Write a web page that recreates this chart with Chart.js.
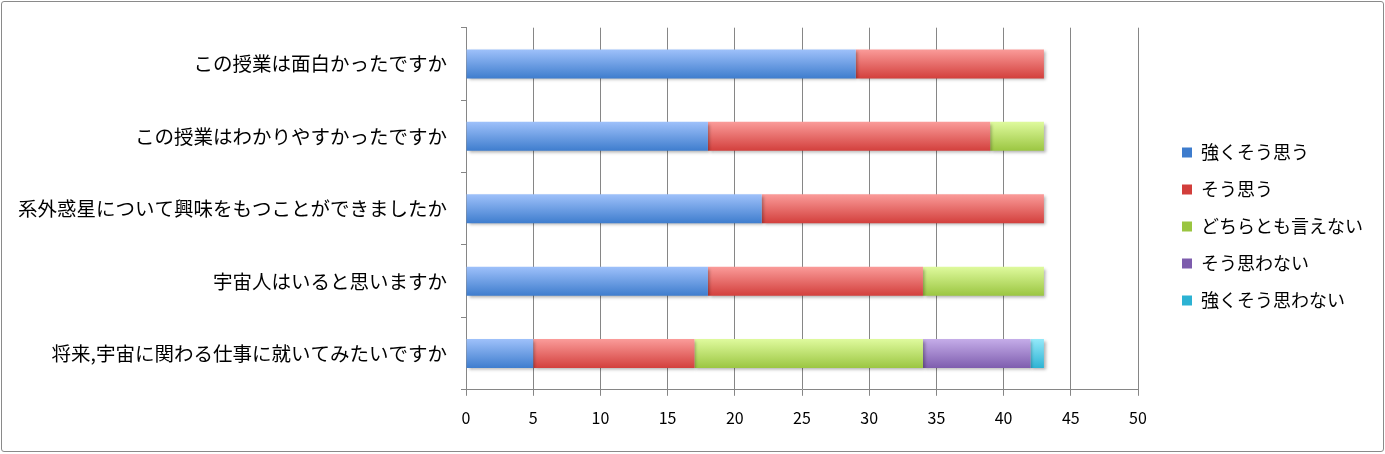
<!DOCTYPE html>
<html>
<head>
<meta charset="utf-8">
<script src="https://cdn.jsdelivr.net/npm/chart.js@4.4.0/dist/chart.umd.min.js"></script>
<style>
  body { margin: 0; background: #fff; }
  #frame {
    position: absolute; left: 1px; top: 1px;
    width: 1381px; height: 449px;
    border: 1px solid #8a8a8a; border-radius: 3px;
  }
</style>
</head>
<body>
<div id="frame"><canvas id="myChart" width="1381" height="449"></canvas></div>
<script>
// data
const questions = [
    'この授業は面白かったですか',
    'この授業はわかりやすかったですか',
    '系外惑星について興味をもつことができましたか',
    '宇宙人はいると思いますか',
    '将来,宇宙に関わる仕事に就いてみたいですか'
];
const seriesNames = ['強くそう思う', 'そう思う', 'どちらとも言えない', 'そう思わない', '強くそう思わない'];
const stronglyAgree = [29, 18, 22, 18, 5];
const agree = [14, 21, 21, 16, 12];
const neutral = [0, 4, 0, 9, 17];
const disagree = [0, 0, 0, 0, 8];
const stronglyDisagree = [0, 0, 0, 0, 1];
const xTicks = [0, 5, 10, 15, 20, 25, 30, 35, 40, 45, 50];

// top / bottom colours of each bar gradient
const shades = [
    ['#a0c2fb', '#3d7ccd'],
    ['#fb9d9b', '#d23e3b'],
    ['#e0fb9f', '#9ac540'],
    ['#c6aeea', '#7d5cad'],
    ['#95eafa', '#2cb2d3']
];

const font = "'Noto Sans CJK JP', 'Noto Sans', sans-serif";

// vertical gradient for each bar, built from the y scale
function barFill(i) {
    return function(context) {
        const chart = context.chart;
        const y = chart.scales && chart.scales.y;
        if (!y || context.type !== 'data') return shades[i][1];
        const mid = y.getPixelForValue(context.dataIndex);
        const half = 15;
        const g = chart.ctx.createLinearGradient(0, mid - half, 0, mid + half);
        g.addColorStop(0, shades[i][0]);
        g.addColorStop(1, shades[i][1]);
        return g;
    };
}

const barShadow = {
    id: 'barShadow',
    beforeDatasetsDraw(chart) {
        const ctx = chart.ctx;
        ctx.save();
        ctx.shadowColor = 'rgba(0,0,0,0.3)';
        ctx.shadowBlur = 3;
        ctx.shadowOffsetX = 2;
        ctx.shadowOffsetY = 2;
    },
    afterDatasetsDraw(chart) {
        chart.ctx.restore();
    }
};

// legend sits a little above the middle, as in the original
const legendNudge = {
    id: 'legendNudge',
    afterLayout(chart) {
        chart.legend.top -= 6;
        chart.legend.bottom -= 6;
    }
};

const values = [stronglyAgree, agree, neutral, disagree, stronglyDisagree];

const ctx = document.getElementById('myChart').getContext('2d');
const chart = new Chart(ctx, {
    type: 'bar',
    data: {
        labels: questions,
        datasets: seriesNames.map((name, i) => ({
            label: name,
            data: values[i],
            backgroundColor: barFill(i),
            borderWidth: 0,
            barPercentage: 0.4,
            categoryPercentage: 1
        }))
    },
    plugins: [barShadow, legendNudge],
    options: {
        indexAxis: 'y',
        responsive: false,
        animation: false,
        layout: { padding: { top: 22, left: 10, right: 10, bottom: 10 } },
        plugins: {
            tooltip: { enabled: false },
            legend: {
                position: 'right',
                labels: {
                    font: { family: font, size: 18 },
                    color: '#000',
                    boxWidth: 10,
                    boxHeight: 10,
                    padding: 19,
                    generateLabels(chart) {
                        return seriesNames.map((name, i) => ({
                            text: name,
                            fillStyle: shades[i][1],
                            strokeStyle: shades[i][1],
                            lineWidth: 0,
                            datasetIndex: i
                        }));
                    }
                }
            }
        },
        scales: {
            x: {
                stacked: true,
                min: 0,
                max: 50,
                afterBuildTicks(axis) {
                    axis.ticks = xTicks.map(v => ({ value: v }));
                },
                grid: { color: '#868686', tickLength: 6, lineWidth: 1 },
                border: { color: '#868686' },
                ticks: { font: { family: font, size: 16 }, color: '#000', padding: 13 }
            },
            y: {
                stacked: true,
                afterFit(scale) { scale.width = 454; },
                grid: { offset: true, drawOnChartArea: false, color: '#868686', tickLength: 5 },
                border: { color: '#868686' },
                ticks: { font: { family: font, size: 19.5 }, color: '#000', padding: 14 }
            },
            gap: {
                type: 'category',
                position: 'right',
                afterFit(scale) { scale.width = 25; },
                grid: { display: false },
                border: { display: false },
                ticks: { display: false }
            }
        }
    }
});
</script>
</body>
</html>
